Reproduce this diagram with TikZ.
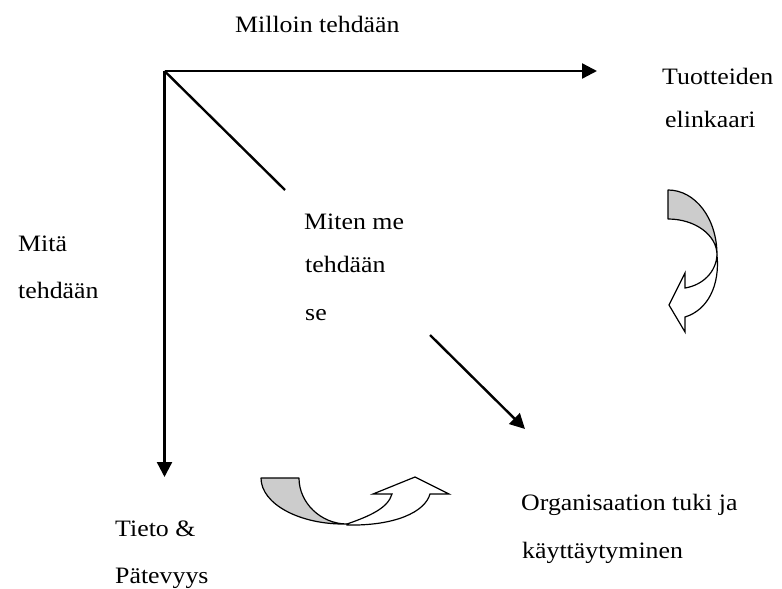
\documentclass[tikz,border=0pt]{standalone}
\usepackage{fontspec}
\setmainfont{Liberation Serif}[FakeStretch=1.1]
\usetikzlibrary{arrows.meta}
\begin{document}
\begin{tikzpicture}[x=1pt,y=-1pt,
  axis/.style={line width=2.4pt,-{Triangle[length=15pt,width=15pt]}},
  plainline/.style={line width=2.4pt},
  label/.style={anchor=base west,inner sep=0pt,font=\fontsize{23.5}{48}\selectfont},
  backband/.style={draw=black,line width=1.2pt,fill=black!20,line join=round},
  frontband/.style={draw=black,line width=1.2pt,fill=white,line join=miter}]
\useasboundingbox (0,0) rectangle (782,589);

% axes
\coordinate (origin) at (164.5,71);
\coordinate (timeEnd) at (597,71);
\coordinate (whatEnd) at (164.5,477);
\coordinate (diagEnd) at (285,190);
\coordinate (howStart) at (430,335);
\coordinate (howEnd) at (525,429);

\draw[axis] (origin) -- (timeEnd);
\draw[axis] (origin) -- (whatEnd);
\draw[plainline] (origin) -- (diagEnd);
\draw[axis] (howStart) -- (howEnd);

% labels
\node[label] (when) at (235,32) {Milloin tehdään};
\node[label] (life1) at (662,84) {Tuotteiden};
\node[label] (life2) at (665,127) {elinkaari};
\node[label] (what1) at (18,251) {Mitä};
\node[label] (what2) at (18,298) {tehdään};
\node[label] (how1) at (304,229) {Miten me};
\node[label] (how2) at (305,272) {tehdään};
\node[label] (how3) at (305,320) {se};
\node[label] (org1) at (521,510) {Organisaation tuki ja};
\node[label] (org2) at (522,558) {käyttäytyminen};
\node[label] (know1) at (115,536) {Tieto \&};
\node[label] (know2) at (115,583) {Pätevyys};

% curved arrow on the right
\path[backband] (668,190) -- (668,219)
  .. controls (695,219) and (717,235) .. (717,255)
  .. controls (717,218) and (695,190) .. (668,190) -- cycle;
\path[frontband] (717,255)
  .. controls (716,272) and (703,285) .. (685,288)
  -- (685,273) -- (669,305) -- (685,332) -- (685,317)
  .. controls (708,310) and (720,285) .. (717,255) -- cycle;

% curved arrow at the bottom
\path[backband] (261,478) -- (299,478)
  .. controls (299,503) and (321,524) .. (347,524)
  .. controls (300,525) and (261,504) .. (261,478) -- cycle;
\path[frontband] (347,524)
  .. controls (370,516) and (388,508) .. (392,494)
  -- (373,494) -- (415,477) -- (449,494) -- (430,494)
  .. controls (425,512) and (395,526) .. (347,525) -- cycle;
\end{tikzpicture}
\end{document}
